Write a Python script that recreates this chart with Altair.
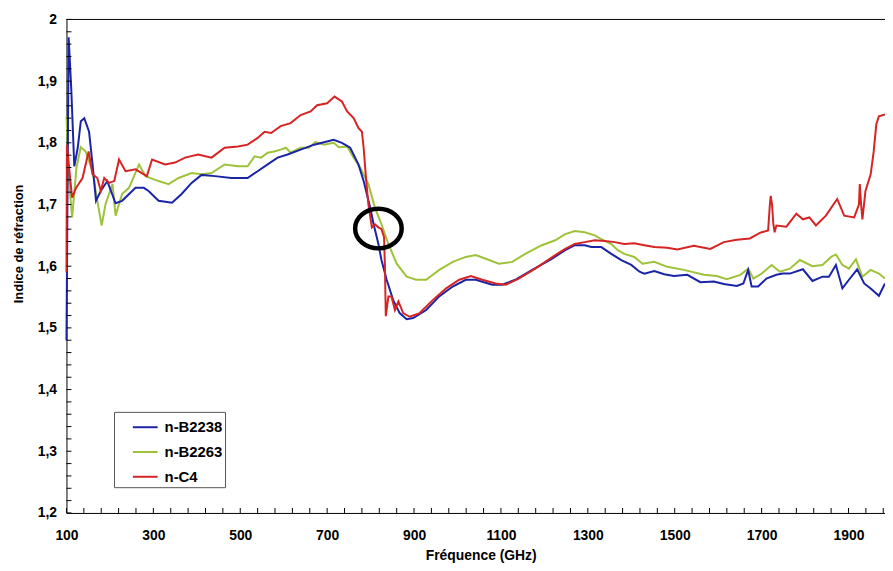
import altair as alt
import pandas as pd

# ---------------- data ----------------
series_names = ["n-B2238", "n-B2263", "n-C4"]
series_colors = ["#1a24a6", "#9fc23a", "#d62424"]

blue_freq = [100, 105, 111, 118, 126, 133, 141, 152, 160, 168, 179, 194, 213, 228, 259, 278, 289, 312,
             343, 365, 388, 411, 442, 479, 517, 540, 563, 586, 609, 639, 670, 693, 715, 734, 753, 772,
             784, 799, 807, 818, 825, 837, 852, 867, 883, 898, 928, 958, 989, 1019, 1042, 1080, 1103,
             1133, 1172, 1217, 1248, 1270, 1293, 1308, 1331, 1354, 1377, 1400, 1419, 1430, 1453, 1476,
             1498, 1529, 1559, 1590, 1613, 1643, 1658, 1669, 1677, 1692, 1711, 1734, 1749, 1765, 1795,
             1817, 1840, 1855, 1871, 1886, 1901, 1920, 1936, 1951, 1970, 1984]
blue_n = [1.48, 1.971, 1.888, 1.762, 1.792, 1.835, 1.840, 1.818, 1.765, 1.706, 1.722, 1.738, 1.702, 1.706,
          1.727, 1.727, 1.722, 1.706, 1.703, 1.717, 1.735, 1.748, 1.746, 1.743, 1.743, 1.754, 1.765, 1.776,
          1.781, 1.789, 1.797, 1.801, 1.805, 1.800, 1.792, 1.765, 1.738, 1.695, 1.668, 1.636, 1.610, 1.578,
          1.545, 1.524, 1.514, 1.516, 1.529, 1.551, 1.567, 1.578, 1.578, 1.570, 1.570, 1.578, 1.594, 1.612,
          1.626, 1.634, 1.634, 1.631, 1.631, 1.620, 1.610, 1.602, 1.591, 1.588, 1.592, 1.587, 1.584, 1.586,
          1.574, 1.575, 1.571, 1.568, 1.572, 1.594, 1.567, 1.567, 1.580, 1.586, 1.588, 1.588, 1.595, 1.576,
          1.583, 1.583, 1.602, 1.564, 1.578, 1.595, 1.572, 1.564, 1.552, 1.572]

green_freq = [100, 106, 113, 123, 133, 144, 160, 171, 181, 190, 206, 213, 228, 244, 267, 282, 312, 335,
              358, 388, 411, 434, 464, 495, 517, 533, 548, 563, 578, 593, 605, 616, 639, 658, 673, 693,
              715, 727, 746, 761, 776, 795, 810, 825, 841, 860, 883, 905, 928, 958, 989, 1019, 1042, 1073,
              1095, 1126, 1156, 1194, 1225, 1248, 1270, 1293, 1316, 1331, 1354, 1369, 1384, 1407, 1426,
              1453, 1483, 1521, 1567, 1597, 1620, 1651, 1669, 1681, 1700, 1723, 1742, 1765, 1788, 1817,
              1840, 1860, 1871, 1886, 1901, 1917, 1932, 1951, 1970, 1984]
green_n = [1.843, 1.738, 1.679, 1.760, 1.793, 1.786, 1.754, 1.706, 1.666, 1.701, 1.733, 1.682, 1.717, 1.727,
           1.765, 1.746, 1.738, 1.733, 1.743, 1.751, 1.749, 1.751, 1.765, 1.762, 1.762, 1.778, 1.776, 1.784,
           1.786, 1.789, 1.792, 1.784, 1.792, 1.792, 1.801, 1.797, 1.800, 1.793, 1.794, 1.776, 1.760, 1.733,
           1.695, 1.668, 1.636, 1.604, 1.583, 1.578, 1.578, 1.594, 1.607, 1.615, 1.618, 1.610, 1.604, 1.607,
           1.620, 1.634, 1.642, 1.652, 1.657, 1.655, 1.650, 1.644, 1.636, 1.626, 1.620, 1.615, 1.604, 1.607,
           1.599, 1.594, 1.586, 1.584, 1.579, 1.586, 1.596, 1.580, 1.588, 1.602, 1.591, 1.596, 1.610, 1.600,
           1.602, 1.615, 1.619, 1.602, 1.596, 1.611, 1.583, 1.594, 1.588, 1.580]

red_freq = [100, 101, 106, 113, 122, 137, 151, 160, 171, 179, 187, 198, 210, 221, 236, 259, 285, 297, 327,
            350, 373, 403, 434, 464, 495, 517, 540, 556, 571, 593, 616, 639, 662, 677, 700, 717, 734, 746,
            761, 772, 780, 784, 790, 795, 803, 810, 818, 825, 831, 833, 835, 841, 848, 856, 864, 875, 890,
            913, 943, 974, 1004, 1031, 1057, 1088, 1111, 1141, 1179, 1225, 1248, 1270, 1293, 1316, 1339,
            1362, 1384, 1407, 1430, 1453, 1483, 1506, 1544, 1582, 1613, 1643, 1673, 1696, 1715, 1719, 1721,
            1724, 1727, 1730, 1734, 1757, 1780, 1795, 1810, 1825, 1848, 1874, 1890, 1913, 1924, 1926, 1929,
            1932, 1939, 1951, 1958, 1964, 1970, 1984]
red_n = [1.59, 1.797, 1.760, 1.711, 1.727, 1.743, 1.786, 1.749, 1.743, 1.722, 1.743, 1.735, 1.738, 1.773,
         1.754, 1.757, 1.746, 1.773, 1.765, 1.768, 1.776, 1.781, 1.776, 1.792, 1.794, 1.797, 1.808, 1.818,
         1.816, 1.827, 1.832, 1.845, 1.851, 1.861, 1.864, 1.875, 1.867, 1.851, 1.840, 1.824, 1.818, 1.792,
         1.738, 1.700, 1.663, 1.668, 1.663, 1.660, 1.647, 1.599, 1.519, 1.551, 1.551, 1.529, 1.543, 1.524,
         1.518, 1.524, 1.545, 1.564, 1.578, 1.584, 1.578, 1.572, 1.570, 1.580, 1.596, 1.618, 1.628, 1.636,
         1.639, 1.642, 1.641, 1.639, 1.636, 1.637, 1.634, 1.631, 1.630, 1.627, 1.633, 1.628, 1.639, 1.643,
         1.645, 1.654, 1.658, 1.700, 1.714, 1.700, 1.668, 1.655, 1.666, 1.664, 1.685, 1.676, 1.679, 1.666,
         1.682, 1.709, 1.682, 1.679, 1.700, 1.733, 1.700, 1.676, 1.722, 1.749, 1.786, 1.830, 1.843, 1.846]

# circled region (annotation)
circle_freq = [818]
circle_n = [1.661]

x_label_values = [100, 300, 500, 700, 900, 1100, 1300, 1500, 1700, 1900]
y_label_values = [1.2, 1.3, 1.4, 1.5, 1.6, 1.7, 1.8, 1.9, 2.0]
x_minor_ticks = list(range(100, 1981, 40))
y_minor_ticks = [round(1.2 + 0.02 * i, 2) for i in range(41)]

X_DOMAIN = [100, 1984]
Y_DOMAIN = [1.2, 2.0]
W, H = 826, 498
FONT = "Liberation Sans"

# ---------------- build tables ----------------
df = pd.concat([
    pd.DataFrame({"freq": blue_freq, "n": blue_n, "serie": series_names[0]}),
    pd.DataFrame({"freq": green_freq, "n": green_n, "serie": series_names[1]}),
    pd.DataFrame({"freq": red_freq, "n": red_n, "serie": series_names[2]}),
], ignore_index=True)

xscale = alt.Scale(domain=X_DOMAIN, nice=False, zero=False)
yscale = alt.Scale(domain=Y_DOMAIN, nice=False, zero=False)
cscale = alt.Scale(domain=series_names, range=series_colors)

x_axis = alt.Axis(values=x_label_values, format="d", ticks=False, grid=False, labelFlush=False,
                  labelFont=FONT, labelFontSize=14, labelFontWeight="bold", labelColor="black",
                  labelPadding=16, domainColor="black", domainWidth=1,
                  title="Fréquence (GHz)", titleFont=FONT, titleFontSize=14, titleFontWeight="bold",
                  titleColor="black", titleX=418, titleY=43, titleBaseline="middle")
y_axis = alt.Axis(values=y_label_values, ticks=False, grid=False, labelFlush=False,
                  labelExpr="datum.value >= 1.999 ? '2' : replace(format(datum.value, '.1f'), '.', ',')",
                  labelFont=FONT, labelFontSize=14, labelFontWeight="bold", labelColor="black",
                  labelPadding=10, domainColor="black", domainWidth=1,
                  title="Indice de réfraction", titleFont=FONT, titleFontSize=13, titleFontWeight="bold",
                  titleColor="black", titleAngle=-90, titleX=-48, titleY=226, titleBaseline="middle",
                  titleAlign="center")

legend = alt.Legend(title=None, orient="none", legendX=48, legendY=396,
                    strokeColor="#555555", fillColor="white", padding=2,
                    labelFont=FONT, labelFontSize=15, labelFontWeight="bold", labelColor="black",
                    symbolType="stroke", symbolSize=625, symbolStrokeWidth=2, rowPadding=3,
                    symbolOffset=16, labelOffset=6)

X = alt.X("freq:Q", scale=xscale, axis=x_axis)
Y = alt.Y("n:Q", scale=yscale, axis=y_axis)


def line_layer(name):
    return (alt.Chart(df).transform_filter(alt.datum.serie == name)
            .mark_line(strokeWidth=2, interpolate="linear")
            .encode(x=X, y=Y, color=alt.Color("serie:N", scale=cscale, legend=legend)))


green_layer = line_layer(series_names[1])
blue_layer = line_layer(series_names[0])
red_layer = line_layer(series_names[2])

xt = alt.Chart(pd.DataFrame({"freq": x_minor_ticks})).mark_rule(color="black", strokeWidth=1).encode(
    x=X, y=alt.value(H), y2=alt.value(H - 5))
yt = alt.Chart(pd.DataFrame({"n": y_minor_ticks})).mark_rule(color="black", strokeWidth=1).encode(
    y=Y, x=alt.value(0), x2=alt.value(5))
top = alt.Chart(pd.DataFrame({"n": [Y_DOMAIN[1]]})).mark_rule(color="black", strokeWidth=1).encode(
    y=Y, x=alt.value(0), x2=alt.value(W))

ellipse_path = ("M 1 0 C 1 0.4694 0.5523 0.85 0 0.85 C -0.5523 0.85 -1 0.4694 -1 0 "
                "C -1 -0.4694 -0.5523 -0.85 0 -0.85 C 0.5523 -0.85 1 -0.4694 1 0 Z")
circle = alt.Chart(pd.DataFrame({"freq": circle_freq, "n": circle_n})).mark_point(
    shape=ellipse_path, size=2209, filled=False, color="black", strokeWidth=4.5, opacity=1
).encode(x=X, y=Y)

chart = alt.layer(green_layer, blue_layer, red_layer, xt, yt, top, circle).properties(
    width=W, height=H,
    autosize=alt.AutoSizeParams(type="none"),
    padding={"left": 59, "top": 9, "right": 0, "bottom": 52},
    background="white",
).configure_view(stroke=None)

chart.save("out.html", embed_options={"renderer": "svg", "actions": False})
